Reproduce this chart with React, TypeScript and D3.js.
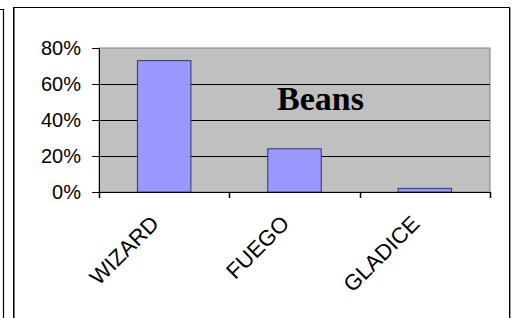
import React from "react";
import * as d3 from "d3";

const categories = ["WIZARD", "FUEGO", "GLADICE"];
const values = [0.73, 0.24, 0.02];
const yTicks = [0, 0.2, 0.4, 0.6, 0.8];
const title = "Beans";

export default function App() {
  const W = 517, H = 318;
  const plot = { left: 99, right: 490, top: 48, bottom: 192 };
  const x = d3.scaleBand<string>().domain(categories).range([plot.left, plot.right]).paddingInner(0.59).paddingOuter(0.295);
  const y = d3.scaleLinear().domain([0, 0.8]).range([plot.bottom, plot.top]);
  const fmt = d3.format(".0%");
  const boundaries = d3.range(categories.length + 1).map((i) => plot.left + i * ((plot.right - plot.left) / categories.length));
  return (
    <svg width={W} height={H} style={{ position: "fixed", left: 0, top: 0, background: "#fff" }}>
      {/* neighbouring box corner */}
      <path d="M0,9.5 H3.5 V318" fill="none" stroke="#000" strokeWidth={1.2} />
      {/* chart frame */}
      <rect x={13.5} y={7.5} width={496} height={330} fill="#fff" stroke="#000" strokeWidth={1} />
      <line x1={14.5} x2={14.5} y1={8} y2={318} stroke="#777" strokeWidth={1} />
      <line x1={510.5} x2={510.5} y1={8} y2={318} stroke="#999" strokeWidth={1} />
      {/* plot area */}
      <rect x={plot.left} y={plot.top} width={plot.right - plot.left} height={plot.bottom - plot.top} fill="#C0C0C0" stroke="#808080" strokeWidth={1} />
      {yTicks.filter((t) => t > 0 && t < 0.8).map((t) => (
        <line key={t} x1={plot.left} x2={plot.right} y1={Math.round(y(t)) + 0.5} y2={Math.round(y(t)) + 0.5} stroke="#000" strokeWidth={1} />
      ))}
      {/* title */}
      <text x={277} y={110} fontFamily="'Liberation Serif', 'Times New Roman', serif" fontWeight="bold" fontSize={34} fill="#000">{title}</text>
      {/* bars */}
      {categories.map((c, i) => (
        <rect key={c} x={x(c)!} y={y(values[i])} width={x.bandwidth()} height={plot.bottom - y(values[i])} fill="#9999FF" stroke="#333366" strokeWidth={1} />
      ))}
      {/* y axis */}
      <line x1={plot.left + 0.5} x2={plot.left + 0.5} y1={plot.top} y2={plot.bottom} stroke="#000" strokeWidth={1} />
      {yTicks.map((t) => (
        <g key={t}>
          <line x1={plot.left - 7} x2={plot.left} y1={Math.round(y(t)) + 0.5} y2={Math.round(y(t)) + 0.5} stroke="#000" strokeWidth={1} />
          <text x={81} y={y(t) + 6.5} textAnchor="end" fontFamily="'Liberation Sans', Arial, sans-serif" fontSize={20} fill="#000">{fmt(t)}</text>
        </g>
      ))}
      {/* x axis */}
      <line x1={plot.left} x2={plot.right} y1={plot.bottom + 0.5} y2={plot.bottom + 0.5} stroke="#000" strokeWidth={1} />
      {boundaries.map((b, i) => (
        <line key={i} x1={Math.round(b) + 0.5} x2={Math.round(b) + 0.5} y1={plot.bottom} y2={plot.bottom + 6} stroke="#000" strokeWidth={1.5} />
      ))}
      {categories.map((c) => {
        const cx = x(c)! + x.bandwidth() / 2 - 4;
        return (
          <text key={c} transform={`translate(${cx},225) rotate(-45)`} textAnchor="end" fontFamily="'Liberation Sans', Arial, sans-serif" fontSize={22} fill="#000">{c}</text>
        );
      })}
    </svg>
  );
}
